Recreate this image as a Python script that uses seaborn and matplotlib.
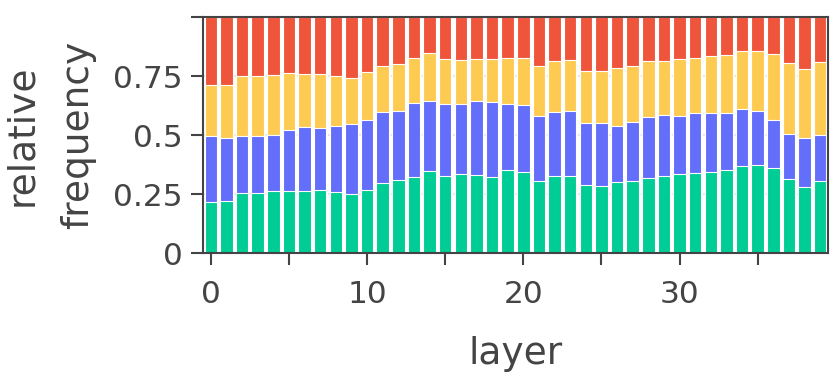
import matplotlib.pyplot as plt
import numpy as np
import pandas as pd
import seaborn as sns

# Data: share of each category per layer
layers = list(range(40))
green = [0.215, 0.219, 0.253, 0.256, 0.262, 0.263, 0.262, 0.267, 0.259, 0.252,
         0.265, 0.296, 0.310, 0.324, 0.347, 0.327, 0.333, 0.331, 0.320, 0.353,
         0.343, 0.306, 0.327, 0.327, 0.290, 0.284, 0.300, 0.305, 0.319, 0.327,
         0.336, 0.341, 0.344, 0.351, 0.368, 0.371, 0.361, 0.314, 0.279, 0.306]
blue = [0.279, 0.270, 0.242, 0.239, 0.239, 0.259, 0.271, 0.262, 0.279, 0.294,
        0.298, 0.300, 0.293, 0.312, 0.299, 0.303, 0.300, 0.312, 0.322, 0.280,
        0.286, 0.273, 0.272, 0.275, 0.262, 0.265, 0.238, 0.251, 0.259, 0.259,
        0.246, 0.252, 0.248, 0.244, 0.242, 0.232, 0.202, 0.192, 0.209, 0.192]
yellow = [0.216, 0.221, 0.253, 0.256, 0.254, 0.240, 0.225, 0.229, 0.213, 0.197,
          0.205, 0.198, 0.198, 0.189, 0.202, 0.192, 0.185, 0.181, 0.179, 0.193,
          0.199, 0.212, 0.215, 0.217, 0.220, 0.221, 0.246, 0.238, 0.234, 0.229,
          0.240, 0.235, 0.242, 0.243, 0.246, 0.252, 0.281, 0.299, 0.292, 0.311]
red = [0.290, 0.290, 0.252, 0.249, 0.245, 0.238, 0.242, 0.242, 0.249, 0.257,
       0.232, 0.206, 0.199, 0.175, 0.152, 0.178, 0.182, 0.176, 0.179, 0.174,
       0.172, 0.209, 0.186, 0.181, 0.228, 0.230, 0.216, 0.206, 0.188, 0.185,
       0.178, 0.172, 0.166, 0.162, 0.144, 0.145, 0.156, 0.195, 0.220, 0.191]

series = ["green", "blue", "yellow", "red"]
colors = {"green": "#00CC96", "blue": "#636EFA", "yellow": "#FECB52", "red": "#EF553B"}

df = pd.DataFrame({"layer": layers, "green": green, "blue": blue,
                   "yellow": yellow, "red": red})

# cumulative tops for stacking
tops = df[series].cumsum(axis=1)
tops["layer"] = df["layer"]

sns.set_style("ticks")
plt.rcParams["font.family"] = ["DejaVu Sans"]
text_color = "#444444"

fig = plt.figure(figsize=(8.3, 3.74), dpi=100)
ax = fig.add_axes([0.2446, 0.3235, 0.7530, 0.631])

# Draw tallest first so each segment sits on the one below
for name in reversed(series):
    sns.barplot(data=tops, x="layer", y=name, color=colors[name], width=0.8,
                edgecolor="white", linewidth=0.8, saturation=1, ax=ax, zorder=2)

ax.set_xlim(-0.5, 39.5)
ax.set_ylim(0, 1)

ax.set_xticks(range(0, 40, 5))
ax.set_xticklabels([str(v) if v % 10 == 0 else "" for v in range(0, 40, 5)])
ax.set_yticks([0, 0.25, 0.5, 0.75, 1])
ax.set_yticklabels(["0", "0.25", "0.5", "0.75", ""])

ax.yaxis.grid(True, color="#e6e6e6", linestyle=(0, (1, 2)), linewidth=1.5, zorder=0)
ax.set_axisbelow(True)

for side in ["left", "right", "top", "bottom"]:
    ax.spines[side].set_visible(True)
    ax.spines[side].set_color(text_color)
    ax.spines[side].set_linewidth(1.5)

ax.tick_params(axis="both", direction="out", length=8.5, width=1.5,
               color=text_color, labelcolor=text_color, labelsize=22.5)
ax.tick_params(axis="y", pad=6)
ax.tick_params(axis="x", pad=11)

ax.set_xlabel("layer", fontsize=27, color=text_color)
ax.set_ylabel("relative\nfrequency", fontsize=27, color=text_color, linespacing=1.72)
ax.xaxis.set_label_coords(0.5, -0.35)
ax.yaxis.set_label_coords(-0.171, 0.5)

fig.savefig("out.png", dpi=100)
